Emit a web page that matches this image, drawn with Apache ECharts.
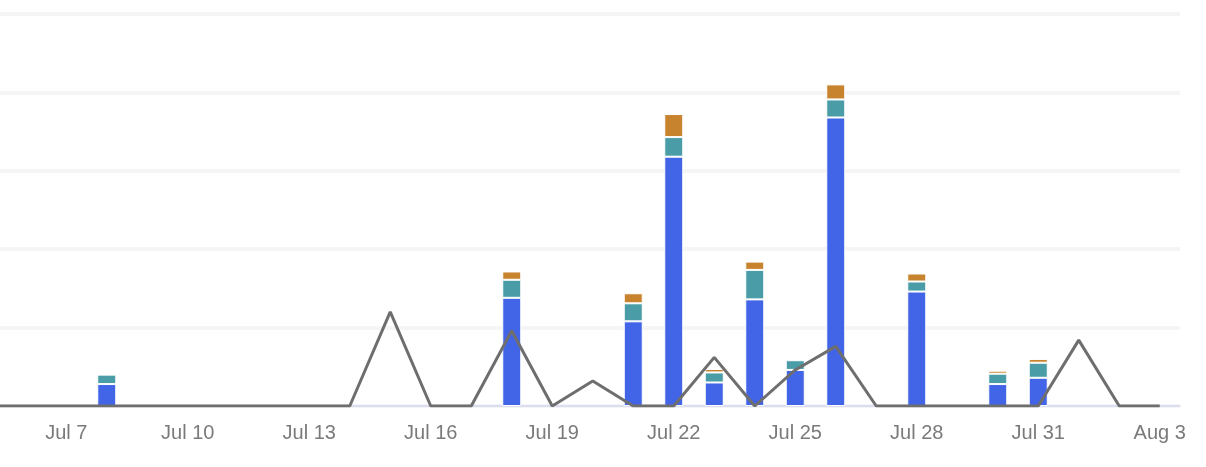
<!DOCTYPE html>
<html>
<head>
    <meta charset="utf-8">
    <title>ECharts</title>
    <script src="https://cdn.jsdelivr.net/npm/echarts@6/dist/echarts.min.js"></script>
    <style type="text/css">
        html, body {
            margin: 0;
            height: 100%;
            background: #fff;
            overflow: hidden;
        }
        #main {
            position: absolute;
            left: -35px;
            top: 0;
        }
    </style>
</head>
<body>
<div id="main" style="width: 1241px;height:467px;"></div>
<script type="text/javascript">
    // days shown on the x axis, Jul 5 .. Aug 3 (Jul 5 and part of Jul 6 sit off the left edge)
    var days = [
        'Jul 5', 'Jul 6', 'Jul 7', 'Jul 8', 'Jul 9', 'Jul 10', 'Jul 11', 'Jul 12',
        'Jul 13', 'Jul 14', 'Jul 15', 'Jul 16', 'Jul 17', 'Jul 18', 'Jul 19', 'Jul 20',
        'Jul 21', 'Jul 22', 'Jul 23', 'Jul 24', 'Jul 25', 'Jul 26', 'Jul 27', 'Jul 28',
        'Jul 29', 'Jul 30', 'Jul 31', 'Aug 1', 'Aug 2', 'Aug 3'
    ];

    // stacked bars (null = no bar that day)
    var blueValues = [
        null, null, null, 14, null, null, null, null,
        null, null, null, null, null, 69, null, null,
        54, 159, 15, 68, 23, 184, null, 73,
        null, 14, 18, null, null, null
    ];
    var tealValues = [
        null, null, null, 6, null, null, null, null,
        null, null, null, null, null, 11.5, null, null,
        11.5, 12.5, 6.4, 18.8, 6.2, 11.5, null, 6.4,
        null, 6.6, 9.6, null, null, null
    ];
    var orangeValues = [
        null, null, null, null, null, null, null, null,
        null, null, null, null, null, 5.3, null, null,
        6.4, 14.7, 2.2, 5.3, null, 9.6, null, 5.1,
        null, 1.9, 2.4, null, null, null
    ];

    // gray line
    var lineValues = [
        0, 0, 0, 0, 0, 0, 0, 0,
        0, 0, 60, 0, 0, 48, 0, 16,
        0, 0, 31, 0, 23, 38, 0, 0,
        0, 0, 0, 42, 0, 0
    ];

    var myChart = echarts.init(document.getElementById('main'), null, {renderer: 'canvas'});

    var segStyle = function (color) {
        return {
            color: color,
            borderColor: '#ffffff',
            borderWidth: 1
        };
    };

    var option = {
        animation: false,
        grid: {
            left: 0,
            right: 26,
            top: 14,
            bottom: 61,
            containLabel: false
        },
        xAxis: {
            type: 'category',
            data: days,
            axisLine: {lineStyle: {color: '#d2d5ee', width: 1.5}},
            axisTick: {show: false},
            axisLabel: {
                interval: function (index) {
                    return (index - 2) % 3 === 0;
                },
                color: '#7a7a7a',
                fontSize: 20,
                fontFamily: 'Liberation Sans, Arial, sans-serif',
                margin: 17
            }
        },
        yAxis: {
            type: 'value',
            min: 0,
            max: 250,
            interval: 50,
            axisLabel: {show: false},
            axisLine: {show: false},
            axisTick: {show: false},
            splitLine: {lineStyle: {color: '#f5f5f5', width: 4}}
        },
        series: [
            {
                name: 'blue',
                type: 'bar',
                stack: 'total',
                barWidth: 19,
                data: blueValues,
                itemStyle: segStyle('#4264e6')
            },
            {
                name: 'teal',
                type: 'bar',
                stack: 'total',
                barWidth: 19,
                data: tealValues,
                itemStyle: segStyle('#4a9da7')
            },
            {
                name: 'orange',
                type: 'bar',
                stack: 'total',
                barWidth: 19,
                data: orangeValues,
                itemStyle: segStyle('#c8832f')
            },
            {
                name: 'line',
                type: 'line',
                data: lineValues,
                showSymbol: false,
                symbol: 'none',
                z: 5,
                lineStyle: {color: '#6e6e6e', width: 3}
            }
        ]
    };

    myChart.setOption(option);

    window.addEventListener("resize", function () {
        myChart.resize();
    });
</script>
</body>
</html>
